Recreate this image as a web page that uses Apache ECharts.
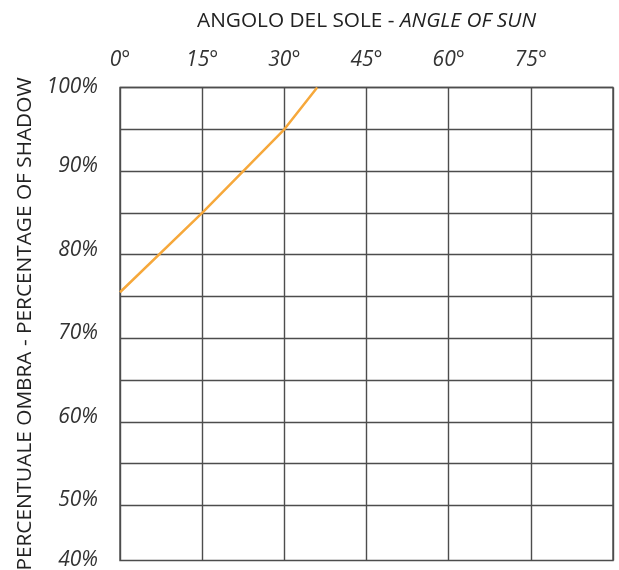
<!DOCTYPE html>
<html>
<head>
<meta charset="utf-8">
<script src="https://cdn.jsdelivr.net/npm/echarts@6/dist/echarts.min.js"></script>
<style>
html,body{margin:0;padding:0;background:#fff;}
#c{width:619px;height:570px;}
</style>
</head>
<body>
<div id="c"></div>
<script>
// Data
const sunAngles = [0, 15, 30, 36];          // degrees
const shadowPct = [75.5, 85, 95, 100];      // percentage of shadow
const xTickValues = [0, 15, 30, 45, 60, 75];
const xTickLabels = ['0°', '15°', '30°', '45°', '60°', '75°'];
const yGridValues = [50, 55, 60, 65, 70, 75, 80, 85, 90, 95, 100];
const yLabelValues = [40, 50, 60, 70, 80, 90, 100];
const yLabelTexts = ['40%', '50%', '60%', '70%', '80%', '90%', '100%'];
const xRange = [0, 90];
const yRange = [43.4, 100];

const FONT = 'Open Sans';
const chart = echarts.init(document.getElementById('c'), null, {renderer: 'canvas'});

const labelPos = yLabelValues.map(v => Math.max(v, yRange[0]));
const edgeStyle = {fontFamily: FONT, fontSize: 21, fontStyle: 'italic', color: '#333', lineHeight: 1};

chart.setOption({
  animation: false,
  backgroundColor: '#ffffff',
  grid: {
    left: 120, right: 6, top: 87.5, bottom: 9.5,
    containLabel: false,
    outerBoundsMode: 'none',
    show: true, borderColor: '#4d4d4d', borderWidth: 1.4, backgroundColor: 'transparent'
  },
  xAxis: {
    type: 'value',
    position: 'top',
    min: xRange[0], max: xRange[1], interval: 15,
    name: '{a|ANGOLO DEL SOLE - }{b|ANGLE OF SUN}',
    nameLocation: 'middle',
    nameGap: 56,
    nameTextStyle: {
      rich: {
        a: {fontFamily: FONT, fontSize: 20.8, color: '#222'},
        b: {fontFamily: FONT, fontSize: 20.8, color: '#222', fontStyle: 'italic'}
      }
    },
    axisLine: {show: false},
    axisTick: {show: false},
    splitLine: {show: true, lineStyle: {color: '#4d4d4d', width: 1.4}},
    axisLabel: {
      customValues: xTickValues,
      formatter: v => xTickLabels[xTickValues.indexOf(v)] || '',
      fontFamily: FONT, fontSize: 21, fontStyle: 'italic', color: '#333',
      margin: 17
    }
  },
  yAxis: {
    type: 'value',
    min: yRange[0], max: yRange[1],
    name: 'PERCENTUALE OMBRA - PERCENTAGE OF SHADOW',
    nameLocation: 'middle',
    nameGap: 84,
    nameTextStyle: {fontFamily: FONT, fontSize: 20.8, color: '#222'},
    axisLine: {show: false},
    axisTick: {show: false, customValues: yGridValues},
    splitLine: {show: true, lineStyle: {color: '#4d4d4d', width: 1.4}},
    axisLabel: {
      customValues: labelPos,
      formatter: v => {
        const i = labelPos.indexOf(v);
        if (i < 0) return '';
        const t = yLabelTexts[i];
        return (i === 0 || i === labelPos.length - 1) ? '{e|' + t + '}' : t;
      },
      fontFamily: FONT, fontSize: 21, fontStyle: 'italic', color: '#333',
      margin: 22,
      verticalAlign: 'bottom',
      lineHeight: 10,
      rich: {e: edgeStyle}
    }
  },
  series: [{
    type: 'line',
    data: sunAngles.map((a, i) => [a, shadowPct[i]]),
    showSymbol: false,
    symbol: 'none',
    lineStyle: {color: '#F6A83B', width: 2.5},
    z: 5
  }]
});
</script>
</body>
</html>
